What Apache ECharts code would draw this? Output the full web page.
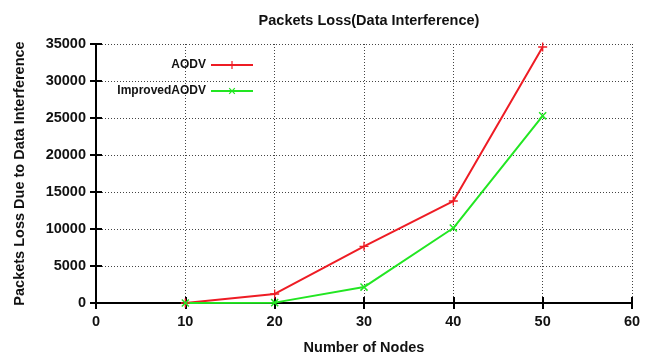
<!DOCTYPE html>
<html>
<head>
<meta charset="utf-8">
<script src="https://cdn.jsdelivr.net/npm/echarts@6/dist/echarts.min.js"></script>
<style>
  html, body { margin: 0; padding: 0; background: #fff; }
  #chart { width: 653px; height: 360px; }
</style>
</head>
<body>
<div id="chart"></div>
<script>
// Number of nodes and packet loss counts per protocol
const nodes = [10, 20, 30, 40, 50];
const aodv = [0, 1220, 7660, 13780, 34600];
const improvedAodv = [0, 50, 2150, 10130, 25290];
const xTicks = [0, 10, 20, 30, 40, 50, 60];
const yTicks = [0, 5000, 10000, 15000, 20000, 25000, 30000, 35000];

const FONT = 'Liberation Sans, Arial, sans-serif';
const plusPath = 'path://M3.4,0H4.6V3.4H8V4.6H4.6V8H3.4V4.6H0V3.4H3.4Z';

const toPairs = (vals) => nodes.map((n, i) => [n, vals[i]]);

const chart = echarts.init(document.getElementById('chart'));

const tickCommon = {
  axisLine: { show: true, lineStyle: { color: '#000', width: 2 } },
  axisTick: { show: true, inside: true, length: 6, lineStyle: { color: '#000', width: 2 } },
};

const legendText = { fontFamily: FONT, fontSize: 12, fontWeight: 'bold', color: '#111' };

chart.setOption({
  animation: false,
  title: {
    text: 'Packets Loss(Data Interference)',
    left: 364, top: 8, textAlign: 'center',
    textStyle: { fontFamily: FONT, fontSize: 14.5, fontWeight: 'bold', color: '#111' }
  },
  legend: [
    {
      data: ['AODV'],
      orient: 'vertical', align: 'right', padding: 0,
      right: 399, top: 59,
      itemWidth: 42, itemHeight: 10, itemGap: 8,
      textStyle: legendText
    },
    {
      data: ['ImprovedAODV'],
      orient: 'vertical', align: 'right', padding: 0,
      right: 399, top: 85,
      itemWidth: 42, itemHeight: 10, itemGap: 8,
      textStyle: legendText
    }
  ],
  grid: { left: 96, right: 21, top: 44, bottom: 53, containLabel: false },
  xAxis: [
    {
      type: 'value', min: 0, max: 60, interval: 10,
      name: 'Number of Nodes', nameLocation: 'middle', nameGap: 37,
      nameTextStyle: { fontFamily: FONT, fontSize: 14.5, fontWeight: 'bold', color: '#111' },
      ...tickCommon,
      axisLabel: {
        margin: 11, fontFamily: FONT, fontSize: 14.5, fontWeight: 'bold', color: '#111',
        formatter: (v) => (xTicks.includes(v) ? String(v) : '')
      },
      splitLine: { show: true, lineStyle: { color: '#444', type: [1, 2], width: 1 } }
    },
    {
      type: 'value', min: 0, max: 60, interval: 10, position: 'top',
      ...tickCommon,
      axisLabel: { show: false },
      splitLine: { show: false }
    }
  ],
  yAxis: [
    {
      type: 'value', min: 0, max: 35000, interval: 5000,
      name: 'Packets Loss Due to Data Interference', nameLocation: 'middle', nameGap: 69,
      nameTextStyle: { fontFamily: FONT, fontSize: 14.5, fontWeight: 'bold', color: '#111' },
      ...tickCommon,
      axisLabel: {
        margin: 10, fontFamily: FONT, fontSize: 14.5, fontWeight: 'bold', color: '#111',
        formatter: (v) => (yTicks.includes(v) ? String(v) : '')
      },
      splitLine: { show: true, lineStyle: { color: '#444', type: [1, 2], width: 1 } }
    },
    {
      type: 'value', min: 0, max: 35000, interval: 5000, position: 'right',
      ...tickCommon,
      axisLabel: { show: false },
      splitLine: { show: false }
    }
  ],
  series: [
    {
      name: 'AODV', type: 'line',
      data: toPairs(aodv),
      symbol: plusPath, symbolSize: 9, showSymbol: true,
      lineStyle: { color: '#ee1c24', width: 2 },
      itemStyle: { color: '#ee1c24' },
      z: 3
    },
    {
      name: 'ImprovedAODV', type: 'line',
      data: toPairs(improvedAodv),
      symbol: plusPath, symbolRotate: 45, symbolSize: 10, showSymbol: true,
      lineStyle: { color: '#22e622', width: 2 },
      itemStyle: { color: '#22e622' },
      z: 3
    }
  ]
});
</script>
</body>
</html>
